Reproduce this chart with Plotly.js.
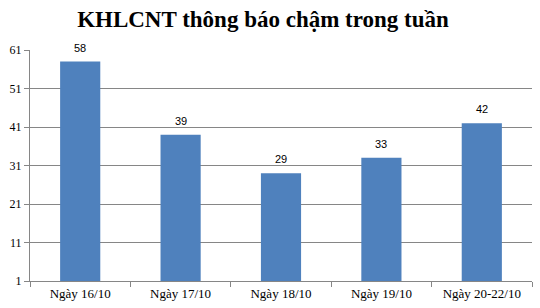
<!DOCTYPE html>
<html><head><meta charset="utf-8">
<script src="https://cdn.plot.ly/plotly-3.0.1.min.js"></script>
<style>body{margin:0;background:#fff}#c{width:540px;height:308px}</style>
</head><body><div id="c"></div>
<script>
const categories = ["Ngày 16/10", "Ngày 17/10", "Ngày 18/10", "Ngày 19/10", "Ngày 20-22/10"];
const values = [58, 39, 29, 33, 42];
const yTicks = [1, 11, 21, 31, 41, 51, 61];

Plotly.newPlot('c', [{
  type: 'bar', x: categories, y: values.map(v => v - 1), base: 1,
  marker: {color: '#4F81BD'},
  hoverinfo: 'none'
}], {
  width: 540, height: 308,
  margin: {l: 30, r: 8, t: 50, b: 27},
  paper_bgcolor: '#fff', plot_bgcolor: '#fff',
  bargap: 0.6,
  showlegend: false,
  annotations: categories.map((c, i) => ({
    x: c, y: values[i], xref: 'x', yref: 'y', text: String(values[i]), showarrow: false,
    yanchor: 'bottom', yshift: 6,
    font: {family: 'Liberation Sans, Arial', size: 11, color: '#000'}
  })),
  title: {text: '<b>KHLCNT thông báo chậm trong tuần</b>', x: 0.487, xanchor: 'center', y: 0.94, yanchor: 'middle',
    font: {family: 'Liberation Serif, Times New Roman', size: 23, color: '#000'}},
  xaxis: {showline: true, linecolor: '#868686', linewidth: 1, ticks: 'outside', tickson: 'boundaries',
    ticklen: 5, tickcolor: '#868686', showgrid: false,
    tickfont: {family: 'Liberation Serif, Times New Roman', size: 13, color: '#000'}},
  yaxis: {range: [1, 61], tickvals: yTicks, ticktext: yTicks.map(String), showline: true, linecolor: '#868686',
    ticks: 'outside', ticklen: 5, tickcolor: '#868686', gridcolor: '#868686', gridwidth: 1, zeroline: false,
    tickfont: {family: 'Liberation Serif, Times New Roman', size: 12, color: '#000'}}
}, {staticPlot: true});
</script></body></html>
